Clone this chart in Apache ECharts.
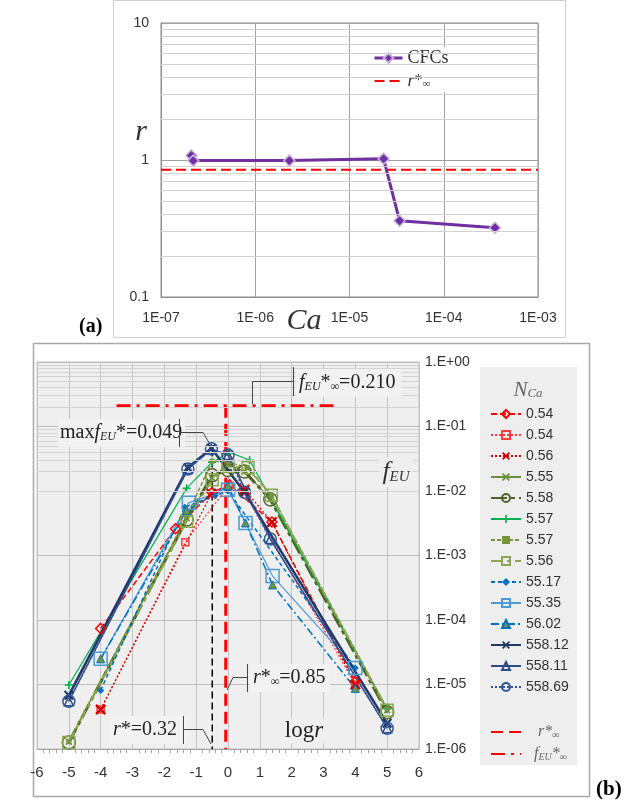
<!DOCTYPE html>
<html><head><meta charset="utf-8">
<script src="https://cdn.jsdelivr.net/npm/echarts@6/dist/echarts.min.js"></script>
<style>html,body{margin:0;padding:0;background:#fff}#c{width:638px;height:805px}</style>
</head><body><div id="c"></div>
<script>
// ---------- Panel (a) data ----------
const caValues = [2.1e-7, 2.2e-7, 2.3e-6, 2.3e-5, 3.4e-5, 3.5e-4];
const rValues  = [1.08, 0.99, 0.99, 1.02, 0.36, 0.32];
const rInfTop = 0.85;
const topXTicks = ['1E-07','1E-06','1E-05','1E-04','1E-03'];
const topYTicks = ['0.1','1','10'];

// ---------- Panel (b) data: [log r, f_EU] ----------
const s054a  = [[-4,7.4e-5],[-1.65,2.6e-3],[-0.5,9.5e-3],[0.05,1.25e-2],[1.38,3.3e-3],[4,1.1e-5]];
const s054b  = [[-4,4.1e-6],[-1.34,1.6e-3],[0.02,1.2e-2],[0.5,1.0e-2],[4,1.0e-5]];
const s056   = [[-4,4.1e-6],[-0.52,9.1e-3],[0.52,1.05e-2],[1.38,3.3e-3],[4,1.0e-5]];
const s555   = [[-5,1.3e-6],[-1.3,3.8e-3],[-0.5,1.6e-2],[0,2.6e-2],[0.52,2.0e-2],[1.33,7.6e-3],[5,4.0e-6]];
const s558   = [[-5,1.26e-6],[-1.3,3.6e-3],[-0.5,1.75e-2],[0,2.1e-2],[0.52,2.0e-2],[1.33,7.4e-3],[5,3.7e-6]];
const s557a  = [[-5,9.8e-6],[-1.3,1.1e-2],[-0.5,2.8e-2],[0.05,4.0e-2],[0.68,3.0e-2],[5,4.2e-6]];
const s557b  = [[-5,1.3e-6],[-1.3,4.0e-3],[-0.5,2.9e-2],[0,2.8e-2],[0.6,2.3e-2],[1.36,8.6e-3],[5,4.2e-6]];
const s556   = [[-5,1.26e-6],[-1.3,3.4e-3],[-0.5,1.5e-2],[0,2.4e-2],[0.63,2.3e-2],[1.36,8.6e-3],[5,4.0e-6]];
const s5517  = [[-4,8.1e-6],[-1.36,5.6e-3],[-0.4,8.5e-3],[0,1.0e-2],[4,1.8e-5]];
const s5535  = [[-4,2.5e-5],[-1.23,6.6e-3],[0,1.05e-2],[0.55,3.2e-3],[1.4,4.8e-4],[4,1.8e-5]];
const s5602  = [[-4,2.5e-5],[-1.3,5.0e-3],[0,1.2e-2],[0.55,3.2e-3],[1.4,3.5e-4],[4,8.7e-6]];
const s55812 = [[-5,6.8e-6],[-1.26,2.3e-2],[-0.52,4.6e-2],[0.52,9.6e-3],[5,2.5e-6]];
const s55811 = [[-5,5.5e-6],[-1.26,2.2e-2],[-0.52,4.4e-2],[0,3.6e-2],[1.33,1.8e-3],[5,2.1e-6]];
const s55869 = [[-5,5.5e-6],[-1.26,2.2e-2],[-0.52,4.5e-2],[0,3.6e-2],[0.52,9.6e-3],[1.33,1.8e-3],[5,2.1e-6]];
const seriesNames = ['0.54','0.54\u200b','0.56','5.55','5.58','5.57','5.57\u200b','5.56','55.17','55.35','56.02','558.12','558.11','558.69'];
const seriesData = [s054a,s054b,s056,s555,s558,s557a,s557b,s556,s5517,s5535,s5602,s55812,s55811,s55869];
const rInf = 0.85, rStar = 0.32, fInf = 0.21, fMax = 0.049;
const hLineX = [-3.5, 3.4];
const botXTicks = ['-6','-5','-4','-3','-2','-1','0','1','2','3','4','5','6'];
const botYTicks = ['1.E-06','1.E-05','1.E-04','1.E-03','1.E-02','1.E-01','1.E+00'];

// ---------- styles ----------
const XSYM = 'path://M0,1.5L1.5,0L5,3.5L8.5,0L10,1.5L6.5,5L10,8.5L8.5,10L5,6.5L1.5,10L0,8.5L3.5,5Z';
const PSYM = 'path://M4,0H6V4H10V6H6V10H4V6H0V4H4Z';
const styles = [
 {c:'#ff0000', t:[6,3], w:1.5, s:'diamond', z:10, hollow:true},
 {c:'#ff3b3b', t:[2,2], w:1.2, s:'rect', z:7, hollow:true},
 {c:'#d00000', t:[2,2], w:1.2, s:XSYM, z:11, hollow:false},
 {c:'#6b8e3a', t:'solid', w:1.2, s:XSYM, z:7, hollow:false},
 {c:'#4f6228', t:[16,4,4,4], w:3, s:'circle', z:13, hollow:true},
 {c:'#00b050', t:'solid', w:1.2, s:PSYM, z:8, hollow:false},
 {c:'#77933c', t:[4,2], w:1.5, s:'rect', z:5, hollow:false},
 {c:'#8aa84c', t:[12,4,4,4], w:2, s:'rect', z:12, hollow:true},
 {c:'#0070c0', t:[4,3], w:1.5, s:'diamond', z:7, hollow:false},
 {c:'#4a9ad8', t:'solid', w:1.2, s:'rect', z:13, hollow:true},
 {c:'#0070c0', t:[8,3,2,3], w:1.5, s:'triangle', z:8, hollow:false, fill:'#77933c'},
 {c:'#1f3864', t:'solid', w:2.5, s:XSYM, z:10, hollow:false},
 {c:'#2e4a8a', t:'solid', w:1.5, s:'triangle', z:9, hollow:true},
 {c:'#2f5597', t:[2,2], w:1.5, s:'circle', z:12, hollow:true}
];

function pad2(n){return (n<10?'0':'')+n;}
const minorTopX=[], minorTopY=[], minorBotY=[];
for(let e=-7;e<=-4;e++) for(let k=2;k<=9;k++) minorTopX.push(k*Math.pow(10,e));
for(let e=-1;e<=0;e++) for(let k=2;k<=9;k++) minorTopY.push(k*Math.pow(10,e));
for(let e=-6;e<=-1;e++) for(let k=2;k<=9;k++) minorBotY.push(k*Math.pow(10,e));

const SERIF='Liberation Serif', SANS='Liberation Sans';

const botSeries = seriesData.map((d,i)=>{
  const st=styles[i];
  return {
    name: seriesNames[i], type:'line', xAxisIndex:1, yAxisIndex:1, data:d, z:3,
    symbol: st.s, symbolSize: st.z, showSymbol:true,
    lineStyle:{color:st.c, width:st.w, type:st.t},
    itemStyle: st.hollow ? {color:'rgba(0,0,0,0)', borderColor:st.c, borderWidth:1.5}
                         : {color: st.fill||st.c, borderColor: st.c, borderWidth: st.fill?1:0},
    emphasis:{disabled:true}
  };
});
const noSym = {opacity:0};

const option = {
  animation:false,
  backgroundColor:'#ffffff',
  textStyle:{fontFamily:SANS},
  grid:[
    {left:161, top:23, width:377, height:274, show:true, backgroundColor:'#ffffff', borderColor:'#8c8c8c', borderWidth:1},
    {left:37, top:362, width:382, height:387, show:true, backgroundColor:'#efefef', borderColor:'#bfbfbf', borderWidth:1}
  ],
  xAxis:[
    {type:'log', gridIndex:0, logBase:10, min:1e-7, max:1e-3, splitNumber:4,
     axisLine:{show:true, lineStyle:{color:'#8c8c8c'}}, axisTick:{show:false},
     axisLabel:{color:'#333', fontSize:14, margin:14, fontFamily:SANS,
       formatter:v=>topXTicks[Math.round(Math.log10(v))+7]},
     splitLine:{show:true, lineStyle:{color:'#a0a0a0', width:1}}},
    {type:'value', gridIndex:1, min:-6, max:6, interval:1,
     axisLine:{show:true, onZero:false, lineStyle:{color:'#a6a6a6'}}, axisTick:{show:false},
     minorTick:{show:true, splitNumber:5, length:4, lineStyle:{color:'#a6a6a6'}},
     axisLabel:{color:'#333', fontSize:15, margin:16, fontFamily:SANS,
       formatter:v=>botXTicks[Math.round(v)+6]},
     splitLine:{show:true, lineStyle:{color:'#c4c4c4', width:1}}}
  ],
  yAxis:[
    {type:'log', gridIndex:0, logBase:10, min:0.1, max:10, splitNumber:2,
     axisLine:{show:true, lineStyle:{color:'#8c8c8c'}}, axisTick:{show:false},
     axisLabel:{color:'#333', fontSize:14, margin:12, fontFamily:SANS,
       formatter:v=>topYTicks[Math.round(Math.log10(v))+1]},
     splitLine:{show:true, lineStyle:{color:'#a0a0a0', width:1}}},
    {type:'log', gridIndex:1, logBase:10, min:1e-6, max:1, splitNumber:6, position:'right',
     axisLine:{show:false}, axisTick:{show:false},
     axisLabel:{color:'#333', fontSize:14, margin:6, fontFamily:SANS,
       formatter:v=>botYTicks[Math.round(Math.log10(v))+6]},
     splitLine:{show:true, lineStyle:{color:'#bdbdbd', width:1}}}
  ],
  legend:[
    {data:[{name:'CFCs', lineStyle:{width:3}}, {name:'rinfA', itemStyle:noSym}], orient:'vertical', left:371, top:47, itemWidth:28, itemHeight:12, itemGap:5,
     selectedMode:false, backgroundColor:'#ffffff', padding:[2,4,2,2],
     textStyle:{fontFamily:SERIF, fontSize:18, color:'#333',
       rich:{i:{fontFamily:SERIF, fontStyle:'italic', fontSize:18, color:'#333'},
             st:{fontFamily:SERIF, fontSize:16, color:'#333'},
             sub:{fontFamily:SERIF, fontSize:11, color:'#333', verticalAlign:'bottom'}}},
     formatter:n=> n==='CFCs' ? 'CFCs' : '{i|r}{st|*}{sub|∞}'},
    {data:seriesNames, orient:'vertical', left:490, top:407, itemWidth:30, itemHeight:10, itemGap:7,
     selectedMode:false, padding:0,
     textStyle:{fontFamily:SANS, fontSize:14, color:'#333', lineHeight:14},
     formatter:n=>n.replace('\u200b','')},
    {data:[{name:'rinfB', itemStyle:noSym},{name:'finf', itemStyle:noSym}], orient:'vertical', left:490, top:724, itemWidth:30, itemHeight:10, itemGap:6,
     selectedMode:false, padding:0,
     textStyle:{fontFamily:SERIF, fontSize:16, color:'#666',
       rich:{i:{fontFamily:SERIF, fontStyle:'italic', fontSize:16, color:'#666'},
             sub:{fontFamily:SERIF, fontStyle:'italic', fontSize:10, color:'#666', verticalAlign:'bottom'}}},
     formatter:n=> n==='rinfB' ? '   {i|r}{i|*}{sub|∞}' : '  {i|f}{sub|EU}{i|*}{sub|∞}'}
  ],
  series:[
    {type:'line', xAxisIndex:0, yAxisIndex:0, data:[[1e-7,0.1]], showSymbol:false, symbol:'none', z:1,
     lineStyle:{width:0}, silent:true,
     markLine:{silent:true, symbol:'none', label:{show:false}, animation:false,
       lineStyle:{color:'#d0d0d0', width:1, type:'solid'},
       data: minorTopX.map(v=>({xAxis:v})).concat(minorTopY.map(v=>({yAxis:v})))}},
    {type:'line', xAxisIndex:1, yAxisIndex:1, data:[[-6,1e-6]], showSymbol:false, symbol:'none', z:1,
     lineStyle:{width:0}, silent:true,
     markLine:{silent:true, symbol:'none', label:{show:false}, animation:false,
       lineStyle:{color:'#d2d2d2', width:1, type:'solid'},
       data: minorBotY.map(v=>({yAxis:v}))}},
    {name:'rinfA', type:'line', xAxisIndex:0, yAxisIndex:0, data:[[1e-7,rInfTop],[1e-3,rInfTop]],
     symbol:'none', lineStyle:{color:'#ff0000', width:2, type:[10,5]}, itemStyle:{color:'#ff0000'}, z:3},
    {name:'CFCs', type:'line', xAxisIndex:0, yAxisIndex:0, data:caValues.map((c,i)=>[c,rValues[i]]),
     symbol:'diamond', symbolSize:11, lineStyle:{color:'#7030a0', width:3},
     itemStyle:{color:'#7030a0', borderColor:'#c8b0e0', borderWidth:1.5}, z:4},
    {name:'rstar', type:'line', xAxisIndex:1, yAxisIndex:1,
     data:[[Math.log10(rStar),fMax*0.9],[Math.log10(rStar),1e-6]], symbol:'none',
     lineStyle:{color:'#000', width:1.5, type:[7,4]}, z:2},
    {name:'finf', type:'line', xAxisIndex:1, yAxisIndex:1,
     data:[[hLineX[0],fInf],[hLineX[1],fInf]], symbol:'none',
     lineStyle:{color:'#ff0000', width:3, type:[14,6,3,6]}, itemStyle:{color:'#ff0000'}, z:2},
    {name:'rinfB', type:'line', xAxisIndex:1, yAxisIndex:1,
     data:[[Math.log10(rInf),fInf],[Math.log10(rInf),1e-6]], symbol:'none',
     lineStyle:{color:'#ff0000', width:3, type:[12,6]}, itemStyle:{color:'#ff0000'}, z:2}
  ].concat(botSeries),
  graphic:[
    {type:'rect', shape:{x:113.5,y:0.5,width:452,height:337}, style:{fill:'none', stroke:'#cfcfcf', lineWidth:1}, z:0, silent:true},
    {type:'rect', shape:{x:33.5,y:343.5,width:556,height:453}, style:{fill:'none', stroke:'#a8a8a8', lineWidth:1.5}, z:0, silent:true},
    {type:'rect', shape:{x:480,y:367,width:97,height:398}, style:{fill:'#eeeeee'}, z:-1, silent:true},
    {type:'text', x:79, y:317, style:{text:'(a)', font:'bold 20px "Liberation Serif"', fill:'#000'}},
    {type:'text', x:596, y:779, style:{text:'(b)', font:'bold 21px "Liberation Serif"', fill:'#000'}},
    {type:'text', x:141, y:132, style:{text:'r', font:'italic 30px "Liberation Serif"', fill:'#333', align:'center', verticalAlign:'middle'}},
    {type:'text', x:304, y:321, style:{text:'Ca', font:'italic 30px "Liberation Serif"', fill:'#333', align:'center', verticalAlign:'middle'}},
    {type:'text', x:528, y:390, z:5, style:{text:'{n|N}{s|Ca}', align:'center', verticalAlign:'middle',
      rich:{n:{fontFamily:SERIF, fontStyle:'italic', fontSize:21, fill:'#666'},
            s:{fontFamily:SERIF, fontStyle:'italic', fontSize:13, fill:'#666', verticalAlign:'bottom'}}}},
    {type:'text', x:396, y:472, z:20, style:{text:'{f|f}{s|EU}', align:'center', verticalAlign:'middle',
      backgroundColor:'#efefef', padding:[2,3],
      rich:{f:{fontFamily:SERIF, fontStyle:'italic', fontSize:26, fill:'#333'},
            s:{fontFamily:SERIF, fontStyle:'italic', fontSize:15, fill:'#333', verticalAlign:'bottom'}}}},
    {type:'text', x:304, y:731, z:20, style:{text:'{n|log}{i|r}', align:'center', verticalAlign:'middle',
      backgroundColor:'#efefef', padding:[1,3],
      rich:{n:{fontFamily:SERIF, fontSize:23, fill:'#222'}, i:{fontFamily:SERIF, fontStyle:'italic', fontSize:23, fill:'#222'}}}},
    // annotation: f_EU*inf
    {type:'text', x:296, y:383, z:20, style:{text:'{i|f}{s|EU}{n|*}{s|∞}{n|=0.210}', verticalAlign:'middle',
      backgroundColor:'#f2f2f2', padding:[4,6,4,3],
      rich:{i:{fontFamily:SERIF, fontStyle:'italic', fontSize:20, fill:'#222'},
            n:{fontFamily:SERIF, fontSize:20, fill:'#222'},
            s:{fontFamily:SERIF, fontStyle:'italic', fontSize:12, fill:'#222', verticalAlign:'bottom'}}}},
    {type:'polyline', z:21, shape:{points:[[293.5,367],[293.5,396]]}, style:{stroke:'#444', lineWidth:1, fill:'none'}},
    {type:'polyline', z:21, shape:{points:[[293.5,381.5],[252.5,381.5],[252.5,404]]}, style:{stroke:'#444', lineWidth:1, fill:'none'}},
    // annotation: max f_EU*
    {type:'text', x:58, y:433, z:20, style:{text:'{n|max}{i|f}{s|EU}{n|*=0.049}', verticalAlign:'middle',
      backgroundColor:'#f2f2f2', padding:[4,3,4,2],
      rich:{i:{fontFamily:SERIF, fontStyle:'italic', fontSize:20, fill:'#222'},
            n:{fontFamily:SERIF, fontSize:20, fill:'#222'},
            s:{fontFamily:SERIF, fontStyle:'italic', fontSize:12, fill:'#222', verticalAlign:'bottom'}}}},
    {type:'polyline', z:21, shape:{points:[[179.5,419],[179.5,447]]}, style:{stroke:'#444', lineWidth:1, fill:'none'}},
    {type:'polyline', z:21, shape:{points:[[179.5,432.5],[203,432.5],[211,446]]}, style:{stroke:'#444', lineWidth:1, fill:'none'}},
    // annotation: r*inf
    {type:'text', x:250, y:678, z:20, style:{text:'{i|r}{n|*}{s|∞}{n|=0.85}', verticalAlign:'middle',
      backgroundColor:'#f2f2f2', padding:[4,4,4,3],
      rich:{i:{fontFamily:SERIF, fontStyle:'italic', fontSize:20, fill:'#222'},
            n:{fontFamily:SERIF, fontSize:20, fill:'#222'},
            s:{fontFamily:SERIF, fontStyle:'italic', fontSize:12, fill:'#222', verticalAlign:'bottom'}}}},
    {type:'polyline', z:21, shape:{points:[[247.5,664],[247.5,692]]}, style:{stroke:'#444', lineWidth:1, fill:'none'}},
    {type:'polyline', z:21, shape:{points:[[247.5,677.5],[233,677.5],[227,690]]}, style:{stroke:'#444', lineWidth:1, fill:'none'}},
    // annotation: r*
    {type:'text', x:110, y:730, z:20, style:{text:'{i|r}{n|*=0.32}', verticalAlign:'middle',
      backgroundColor:'#f2f2f2', padding:[4,10,4,3],
      rich:{i:{fontFamily:SERIF, fontStyle:'italic', fontSize:20, fill:'#222'},
            n:{fontFamily:SERIF, fontSize:20, fill:'#222'}}}},
    {type:'polyline', z:21, shape:{points:[[183.5,716],[183.5,744]]}, style:{stroke:'#444', lineWidth:1, fill:'none'}},
    {type:'polyline', z:21, shape:{points:[[183.5,729.5],[203,729.5],[211,744]]}, style:{stroke:'#444', lineWidth:1, fill:'none'}}
  ]
};
const chart = echarts.init(document.getElementById('c'), null, {renderer:'canvas'});
chart.setOption(option);
</script></body></html>
